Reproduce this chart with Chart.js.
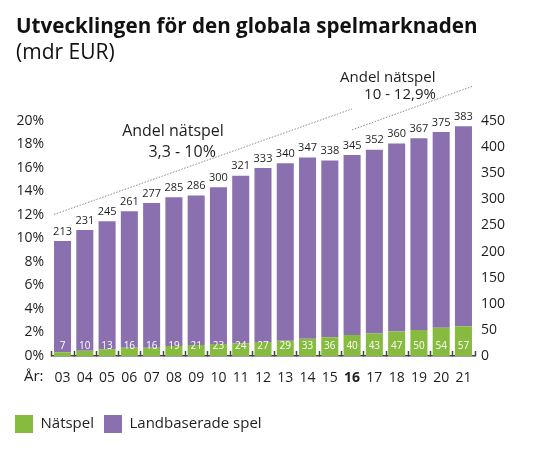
<!DOCTYPE html>
<html><head><meta charset="utf-8">
<script src="https://cdn.jsdelivr.net/npm/chart.js@4.4.1/dist/chart.umd.min.js"></script>
<style>html,body{margin:0;padding:0;background:#fff;}</style>
</head><body>
<canvas id="c" width="553" height="459"></canvas>
<script>
// ---- data ----
const years = ['03','04','05','06','07','08','09','10','11','12','13','14','15','16','17','18','19','20','21'];
const natspel = [7,10,13,16,16,19,21,23,24,27,29,33,36,40,43,47,50,54,57];
const landbaserade = [213,231,245,261,277,285,286,300,321,333,340,347,338,345,352,360,367,375,383];
const percentTicks = [0,2,4,6,8,10,12,14,16,18,20];
const valueTicks = [0,50,100,150,200,250,300,350,400,450];
const shareNotes = [['Andel nätspel','3,3 - 10%'],['Andel nätspel','10 - 12,9%']];
const boldYear = '16';

const FONT = "'Open Sans', sans-serif";
const TXT = '#1e1e1e';
const PURPLE = '#8b70b0';
const GREEN = '#86bb3f';

const barLabels = {
  id:'barLabels',
  afterDatasetsDraw(chart){
    const ctx = chart.ctx, y = chart.scales.y;
    const base = y.getPixelForValue(0);
    const mG = chart.getDatasetMeta(0), mP = chart.getDatasetMeta(1);
    ctx.save();
    ctx.textAlign='center'; ctx.textBaseline='middle';
    ctx.font = '10px ' + FONT; ctx.fillStyle = '#ffffff';
    mG.data.forEach((el,i)=> ctx.fillText(String(natspel[i]), el.x, base-10));
    ctx.font = '11px ' + FONT; ctx.fillStyle = TXT;
    mP.data.forEach((el,i)=> ctx.fillText(String(landbaserade[i]), el.x, el.y-9.5));
    ctx.restore();
  }
};

const axisDecor = {
  id:'axisDecor',
  afterLayout(chart){
    chart.boxes.forEach(b=>{
      if (b.position==='top' && b.options && typeof b.options.text === 'string') { b.left += 11; b.right += 11; }
    });
  },
  afterDraw(chart){
    const ctx = chart.ctx, x = chart.scales.x, y = chart.scales.y;
    const b = chart.chartArea.bottom;
    const half = (x.getPixelForValue(1)-x.getPixelForValue(0))/2;
    ctx.save();
    ctx.strokeStyle='#444'; ctx.lineWidth=1.5;
    for(let i=0;i<=years.length;i++){
      const px = Math.round(x.getPixelForValue(i)-half)+0.5;
      ctx.beginPath(); ctx.moveTo(px,b+0.5); ctx.lineTo(px,b-5); ctx.stroke();
    }
    ctx.fillStyle = TXT; ctx.font = '15px ' + FONT;
    ctx.textAlign='right'; ctx.textBaseline='middle';
    ctx.fillText('År:', x.getPixelForValue(0)-19, b+21);
    // share annotations
    const P = (i,v)=>[x.getPixelForValue(i), y.getPixelForValue(v)];
    const lines = [[[-0.38,271],[13,473]],[[13,433],[18.45,517]]];
    ctx.strokeStyle='#8a8a8a'; ctx.lineWidth=1; ctx.setLineDash([1.5,1.5]);
    lines.forEach(l=>{ const a=P(...l[0]), c=P(...l[1]); ctx.beginPath(); ctx.moveTo(a[0],a[1]); ctx.lineTo(c[0],c[1]); ctx.stroke(); });
    ctx.setLineDash([]);
    ctx.textAlign='center';
    const notes = [
      {t:shareNotes[0][0], p:[4.96,429], s:16},{t:shareNotes[0][1], p:[5.37,390], s:16},
      {t:shareNotes[1][0], p:[14.6,533], s:15},{t:shareNotes[1][1], p:[15.15,500], s:15}
    ];
    notes.forEach(n=>{ const q=P(...n.p); ctx.font = n.s+'px '+FONT; ctx.fillText(n.t,q[0],q[1]); });
    ctx.restore();
  }
};

new Chart(document.getElementById('c'), {
  type:'bar',
  data:{
    labels: years,
    datasets:[
      {label:'Nätspel', data:natspel, backgroundColor:GREEN, yAxisID:'y', stack:'s'},
      {label:'Landbaserade spel', data:landbaserade, backgroundColor:PURPLE, yAxisID:'y', stack:'s'}
    ]
  },
  options:{
    responsive:false, animation:false, devicePixelRatio:1,
    layout:{padding:{left:5,right:0,top:0,bottom:16}},
    datasets:{bar:{barPercentage:0.765, categoryPercentage:1}},
    scales:{
      x:{stacked:true, grid:{display:false}, border:{display:true,color:'#444',width:1.5},
         ticks:{padding:6, color:TXT, font:(c)=>({family:FONT, size:14, weight: years[c.index]===boldYear?'bold':'normal'})},
         afterFit(s){ s.height = 49; }},
      y:{position:'right', stacked:true, min:0, max:450,
         afterBuildTicks(s){ s.ticks = valueTicks.map(v=>({value:v})); },
         grid:{display:false, drawTicks:false}, border:{display:false},
         ticks:{padding:6.4, color:TXT, font:{family:FONT,size:14}},
         afterFit(s){ s.width = 78.4; }},
      yp:{position:'left', min:0, max:20,
         afterBuildTicks(s){ s.ticks = percentTicks.map(v=>({value:v})); },
         grid:{display:false, drawTicks:false}, border:{display:false},
         ticks:{padding:7.4, color:TXT, font:{family:FONT,size:14}, callback:v=>v+'%'},
         afterFit(s){ s.width = 46.4; }}
    },
    plugins:{
      title:{display:true, text:'Utvecklingen för den globala spelmarknaden', align:'start', color:'#111',
             font:{family:FONT, size:20.6, weight:'bold', lineHeight:1.2}, padding:{top:15,bottom:0}},
      subtitle:{display:true, text:'(mdr EUR)', align:'start', color:'#111',
             font:{family:FONT, size:21, weight:'normal', lineHeight:1.2}, padding:{top:1,bottom:55}},
      legend:{position:'bottom', align:'start',
             labels:{boxWidth:18, boxHeight:18, padding:10, color:TXT, font:{family:FONT,size:15}}},
      tooltip:{enabled:false}
    }
  },
  plugins:[barLabels, axisDecor]
});
</script>
</body></html>
